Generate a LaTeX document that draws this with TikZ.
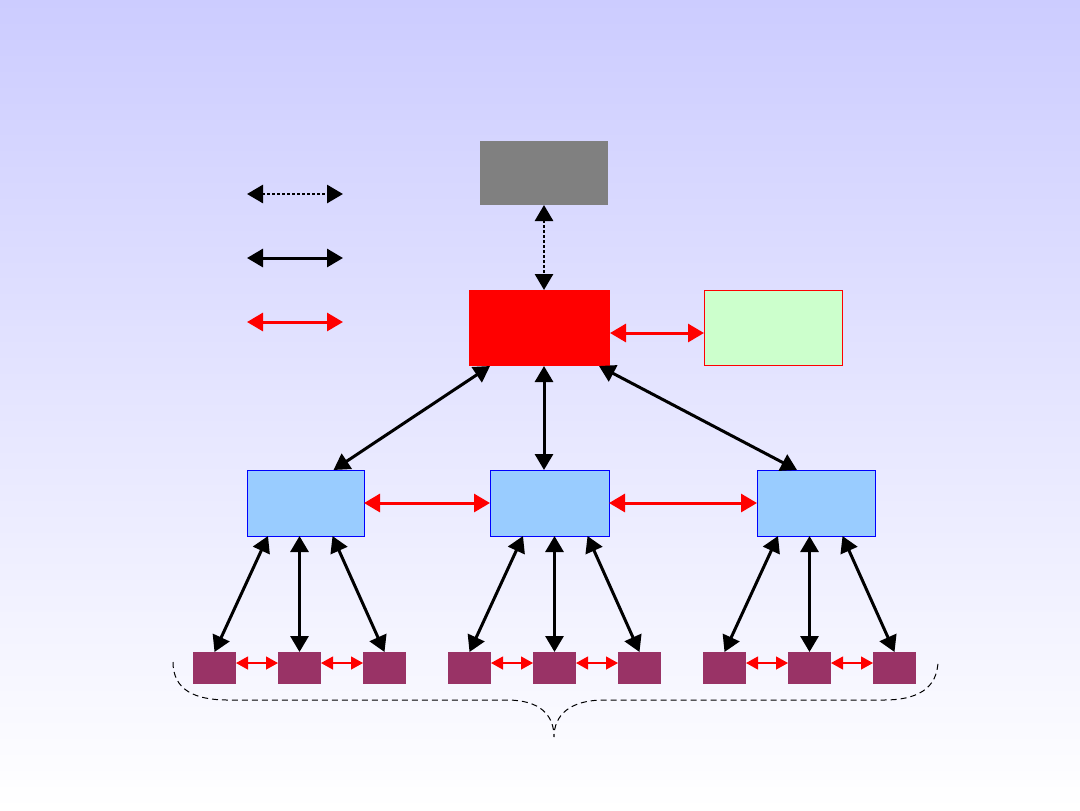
\documentclass[tikz,border=0pt]{standalone}
\usepackage{tikz}
\usetikzlibrary{positioning,calc,arrows.meta}
\usepackage{xcolor}
\definecolor{bgtop}{HTML}{CCCCFF}
\definecolor{boxgray}{HTML}{808080}
\definecolor{boxred}{HTML}{FF0000}
\definecolor{boxgreen}{HTML}{CCFFCC}
\definecolor{boxblue}{HTML}{99CCFF}
\definecolor{leafpurple}{HTML}{993366}

\begin{document}
\begin{tikzpicture}[x=0.5pt,y=-0.5pt,
  every node/.style={inner sep=0pt,outer sep=0pt},
  box/.style={rectangle,minimum width=#1},
  arr/.style={line width=1.5pt,>={Triangle[length=8pt,width=9pt]},<->},
  dotarr/.style={arr,line width=1.4pt,dash pattern=on 1.5pt off 1pt},
  redarr/.style={arr,draw=red,fill=red},
  smallarr/.style={line width=0.6pt,draw=red,fill=red,>={Triangle[length=6pt,width=6.5pt]},<->},
  leaf/.style={rectangle,fill=leafpurple,minimum width=21.5pt,minimum height=16pt}]
% background
\shade[top color=bgtop,bottom color=white] (0,0) rectangle (1080,810);
% LEVEL 1: central box, with the grey and green boxes beside it
\node[box=70.5pt,minimum height=38pt,fill=boxred] (red) at (539.5,328) {};
\node[box=64pt,minimum height=32pt,fill=boxgray,above=42.5pt of red,xshift=2.25pt] (gray) {};
\node[box=69pt,minimum height=37.5pt,fill=boxgreen,draw=red,line width=0.5pt,right=47pt of red] (green) {};
% LEVEL 2: three blue boxes
\node[box=58.5pt,minimum height=33pt,fill=boxblue,draw=blue,line width=0.5pt] (bl) at (305.5,503) {};
\node[box=59.5pt,minimum height=33pt,fill=boxblue,draw=blue,line width=0.5pt] (bm) at (549.5,503) {};
\node[box=59pt,minimum height=33pt,fill=boxblue,draw=blue,line width=0.5pt] (br) at (816,503) {};
% LEVEL 3: leaves
\foreach \i in {1,...,9}
  \node[leaf] (s\i) at ({214.5+85*(\i-1)},668) {};
% legend
\coordinate (k1a) at (247,194); \coordinate (k1b) at (343,194);
\coordinate (k2a) at (247,258); \coordinate (k2b) at (343,258);
\coordinate (k3a) at (247,322); \coordinate (k3b) at (343,322);
\draw[dotarr] (k1a) -- (k1b);
\draw[arr] (k2a) -- (k2b);
\draw[redarr] (k3a) -- (k3b);
% connectors
\draw[dotarr] (gray.south) -- (gray.south |- red.north);
\draw[redarr] ([yshift=-2.5pt]red.east) -- ([yshift=-2.5pt]red.east -| green.west);
\draw[arr] ([xshift=10.5pt]red.south west) -- ([xshift=14pt]bl.north);
\draw[arr] ([xshift=2.25pt]red.south) -- ([xshift=2.25pt]red.south |- bm.north);
\draw[arr] ([xshift=-5.5pt]red.south east) -- ([xshift=-9.5pt]br.north);
\draw[redarr] (bl.east) -- (bm.west);
\draw[redarr] (bm.east) -- (br.west);
\foreach \b/\l/\m/\r in {bl/1/2/3,bm/4/5/6,br/7/8/9} {
  \draw[arr] ($(s\m.north |- \b.south)+(-15.75pt,0)$) -- (s\l.north);
  \draw[arr] (s\m.north |- \b.south) -- (s\m.north);
  \draw[arr] ($(s\m.north |- \b.south)+(16.5pt,0)$) -- (s\r.north);
}
\foreach \i/\j in {1/2,2/3,4/5,5/6,7/8,8/9}
  \draw[smallarr] ([yshift=2.5pt]s\i.east) -- ([yshift=2.5pt]s\j.west);
% brace under the leaves
\draw[dashed,line width=0.5pt,dash pattern=on 3pt off 2pt]
  (173,662) .. controls (173,690) and (195,700) .. (228,700) -- (507,700)
  .. controls (540,700) and (554,715) .. (554,737)
  .. controls (554,715) and (570,700) .. (604,700) -- (884,700)
  .. controls (915,700) and (938,690) .. (938,660);
\end{tikzpicture}
\end{document}
